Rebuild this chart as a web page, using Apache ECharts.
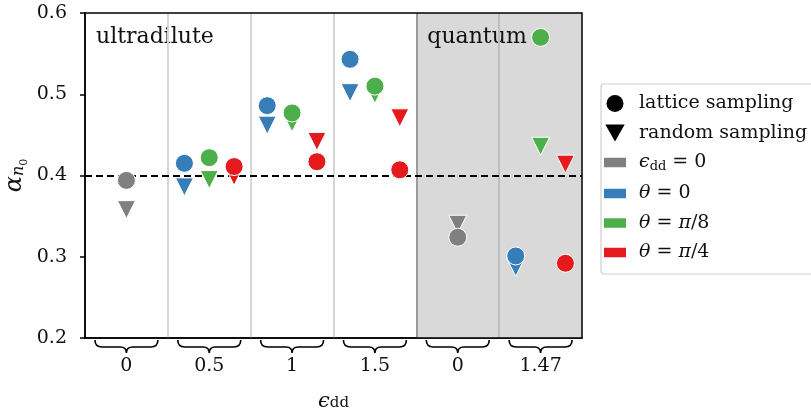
<!DOCTYPE html>
<html><head><meta charset="utf-8">
<script src="https://cdn.jsdelivr.net/npm/echarts@6/dist/echarts.min.js"></script>
<style>html,body{margin:0;padding:0;background:#fff}#c{width:811px;height:412px}</style>
</head><body><div id="c"></div>
<script>
// Groups along the x axis (value of eps_dd in each block)
const groupLabels = ['0', '0.5', '1', '1.5', '0', '1.47'];
const regionNames = ['ultradilute', 'quantum'];
const yTicks = [0.2, 0.3, 0.4, 0.5, 0.6];
const refLevel = 0.4;

// alpha_{n0} per group: lattice sampling (circles) and random sampling (triangles)
const grayLattice  = [0.394, null, null, null, 0.324, null];
const grayRandom   = [0.358, null, null, null, 0.340, null];
const blueLattice  = [null, 0.415, 0.486, 0.543, null, 0.301];
const blueRandom   = [null, 0.386, 0.462, 0.502, null, 0.287];
const greenLattice = [null, 0.422, 0.477, 0.510, null, 0.570];
const greenRandom  = [null, 0.395, 0.465, 0.500, null, 0.436];
const redLattice   = [null, 0.411, 0.417, 0.407, null, 0.292];
const redRandom    = [null, 0.399, 0.442, 0.471, null, 0.414];

const C = { gray: '#808080', blue: '#377eb8', green: '#4daf4a', red: '#e41a1c' };
const FONT = 'DejaVu Serif';
const TRI = 'path://M0,0 L2,0 L1,2 Z';
const RECT = 'path://M0,0 H22 V9.5 H0 Z';

function pts(vals, off) {
  const out = [];
  vals.forEach((v, i) => { if (v !== null) out.push([i + 0.5 + off, v]); });
  return out;
}
function scatter(vals, off, color, symbol) {
  return {
    type: 'scatter', data: pts(vals, off), symbol: symbol, symbolSize: 18,
    itemStyle: { color: color, borderColor: '#fff', borderWidth: 1, opacity: 1 },
    z: 5, silent: true
  };
}

const chart = echarts.init(document.getElementById('c'), null, { renderer: 'canvas' });

// rich styles for axis titles
const titleRich = {
  a: { fontFamily: FONT, fontStyle: 'italic', fontSize: 24, color: '#111' },
  n: { fontFamily: FONT, fontStyle: 'italic', fontSize: 16, color: '#111', verticalAlign: 'top', padding: [12, 0, 0, 0] },
  z: { fontFamily: FONT, fontSize: 11, color: '#111', verticalAlign: 'top', padding: [20, 0, 0, 0] },
  e: { fontFamily: FONT, fontStyle: 'italic', fontSize: 21, color: '#111' },
  d: { fontFamily: FONT, fontSize: 15, color: '#111', verticalAlign: 'top', padding: [5, 0, 0, 0] }
};
// rich styles for legend labels
const legendRich = {
  i: { fontFamily: FONT, fontStyle: 'italic', fontSize: 19, color: '#111' },
  s: { fontFamily: FONT, fontSize: 13, color: '#111', verticalAlign: 'top', padding: [9, 0, 0, 0] },
  t: { fontFamily: FONT, fontSize: 19, color: '#111' }
};

const legendText = {
  'lattice sampling': '{t|lattice sampling}',
  'random sampling': '{t|random sampling}',
  eps0: '{i|ϵ}{s|dd}{t| = 0}',
  th0: '{i|θ}{t| = 0}',
  th8: '{i|θ}{t| = }{i|π}{t|/8}',
  th4: '{i|θ}{t| = }{i|π}{t|/4}'
};

const option = {
  animation: false,
  backgroundColor: '#fff',
  grid: { left: 85, right: 229, top: 13, bottom: 74, show: true, z: 10,
          outerBoundsMode: 'none', containLabel: false,
          backgroundColor: 'transparent', borderColor: '#000', borderWidth: 1.5 },
  xAxis: {
    type: 'value', min: 0, max: groupLabels.length,
    name: '{e|ϵ}{d|dd}', nameLocation: 'middle', nameGap: 53, nameMoveOverlap: false,
    nameTextStyle: { rich: titleRich },
    axisLine: { show: true, lineStyle: { color: '#000', width: 1.5 } },
    axisTick: { show: false },
    splitLine: { show: false },
    axisLabel: {
      customValues: groupLabels.map((_, i) => i + 0.5),
      formatter: v => groupLabels[Math.floor(v)],
      margin: 19, fontFamily: FONT, fontSize: 19, color: '#111'
    }
  },
  yAxis: {
    type: 'value', min: 0.2, max: 0.6, interval: 0.1,
    name: '{a|α}{n|n}{z|0}', nameLocation: 'middle', nameGap: 55, nameRotate: 90,
    nameMoveOverlap: false,
    nameTextStyle: { rich: titleRich },
    axisLine: { show: true, lineStyle: { color: '#000', width: 1.5 } },
    axisTick: { show: true, length: 5, lineStyle: { color: '#000', width: 1.5 } },
    splitLine: { show: false },
    axisLabel: { formatter: v => v.toFixed(1), margin: 18, fontFamily: FONT, fontSize: 19, color: '#111' }
  },
  legend: {
    orient: 'vertical', left: 601, top: 84, itemWidth: 22, itemHeight: 17, itemGap: 10.5,
    padding: [10, 8, 12, 3], borderColor: '#cfcfcf', borderWidth: 1.2, borderRadius: 3,
    backgroundColor: '#fff', selectedMode: false,
    textStyle: { fontFamily: FONT, fontSize: 19, color: '#111', rich: legendRich, padding: [0, 0, 0, 8] },
    formatter: n => legendText[n],
    data: [
      { name: 'lattice sampling', icon: 'circle' },
      { name: 'random sampling', icon: 'path://M0,0 L2,0 L1,1.75 Z' },
      { name: 'eps0', icon: RECT },
      { name: 'th0', icon: RECT },
      { name: 'th8', icon: RECT },
      { name: 'th4', icon: RECT }
    ]
  },
  series: [
    // shaded quantum regime
    {
      type: 'scatter', data: [], z: 1, silent: true,
      markArea: {
        silent: true, label: { show: false },
        data: [[{ xAxis: 4, itemStyle: { color: '#d9d9d9' } }, { xAxis: 6 }]]
      }
    },
    // group separators and the reference level
    {
      type: 'scatter', data: [], z: 2, silent: true,
      markLine: {
        silent: true, symbol: 'none', label: { show: false },
        data: [
          { xAxis: 1, lineStyle: { color: '#d6d6d6', width: 2, type: 'solid' } },
          { xAxis: 2, lineStyle: { color: '#d6d6d6', width: 2, type: 'solid' } },
          { xAxis: 3, lineStyle: { color: '#d6d6d6', width: 2, type: 'solid' } },
          { xAxis: 4, lineStyle: { color: '#9a9a9a', width: 2, type: 'solid' } },
          { xAxis: 5, lineStyle: { color: '#bdbdbd', width: 2, type: 'solid' } },
          { yAxis: refLevel, lineStyle: { color: '#000', width: 1.8, type: [7, 4] } }
        ]
      }
    },
    // regime names
    {
      type: 'scatter', data: [], z: 4, silent: true,
      markArea: {
        silent: true,
        itemStyle: { color: 'rgba(0,0,0,0)' },
        label: { position: [11, 13], fontFamily: FONT, fontSize: 22, color: '#111' },
        data: [
          [{ xAxis: 0, name: regionNames[0] }, { xAxis: 4 }],
          [{ xAxis: 4, name: regionNames[1] }, { xAxis: 6 }]
        ]
      }
    },
    // curly braces under each group
    {
      type: 'custom', clip: false, silent: true, z: 3,
      data: groupLabels.map((_, i) => [i + 0.5]),
      renderItem: (params, api) => {
        const p = api.coord([api.value(0), 0.2]);
        const hw = api.size([0.38, 0])[0];
        return {
          type: 'path',
          shape: {
            pathData: 'M0,0 Q0,7 7,7 L25,7 Q31,7 31,13 Q31,7 37,7 L55,7 Q62,7 62,0',
            x: p[0] - hw, y: p[1] + 2, width: hw * 2, height: 13, layout: 'cover'
          },
          style: { stroke: '#000', fill: null, lineWidth: 1.6 }
        };
      }
    },
    // legend-only entries
    { name: 'lattice sampling', type: 'scatter', data: [], itemStyle: { color: '#000', opacity: 1 } },
    { name: 'random sampling', type: 'scatter', data: [], itemStyle: { color: '#000', opacity: 1 } },
    { name: 'eps0', type: 'scatter', data: [], itemStyle: { color: C.gray, opacity: 1 } },
    { name: 'th0', type: 'scatter', data: [], itemStyle: { color: C.blue, opacity: 1 } },
    { name: 'th8', type: 'scatter', data: [], itemStyle: { color: C.green, opacity: 1 } },
    { name: 'th4', type: 'scatter', data: [], itemStyle: { color: C.red, opacity: 1 } },
    // data: random sampling first, lattice sampling on top
    scatter(grayRandom, 0, C.gray, TRI),
    scatter(blueRandom, -0.3, C.blue, TRI),
    scatter(greenRandom, 0, C.green, TRI),
    scatter(redRandom, 0.3, C.red, TRI),
    scatter(grayLattice, 0, C.gray, 'circle'),
    scatter(blueLattice, -0.3, C.blue, 'circle'),
    scatter(greenLattice, 0, C.green, 'circle'),
    scatter(redLattice, 0.3, C.red, 'circle')
  ]
};
chart.setOption(option);
</script>
</body></html>
